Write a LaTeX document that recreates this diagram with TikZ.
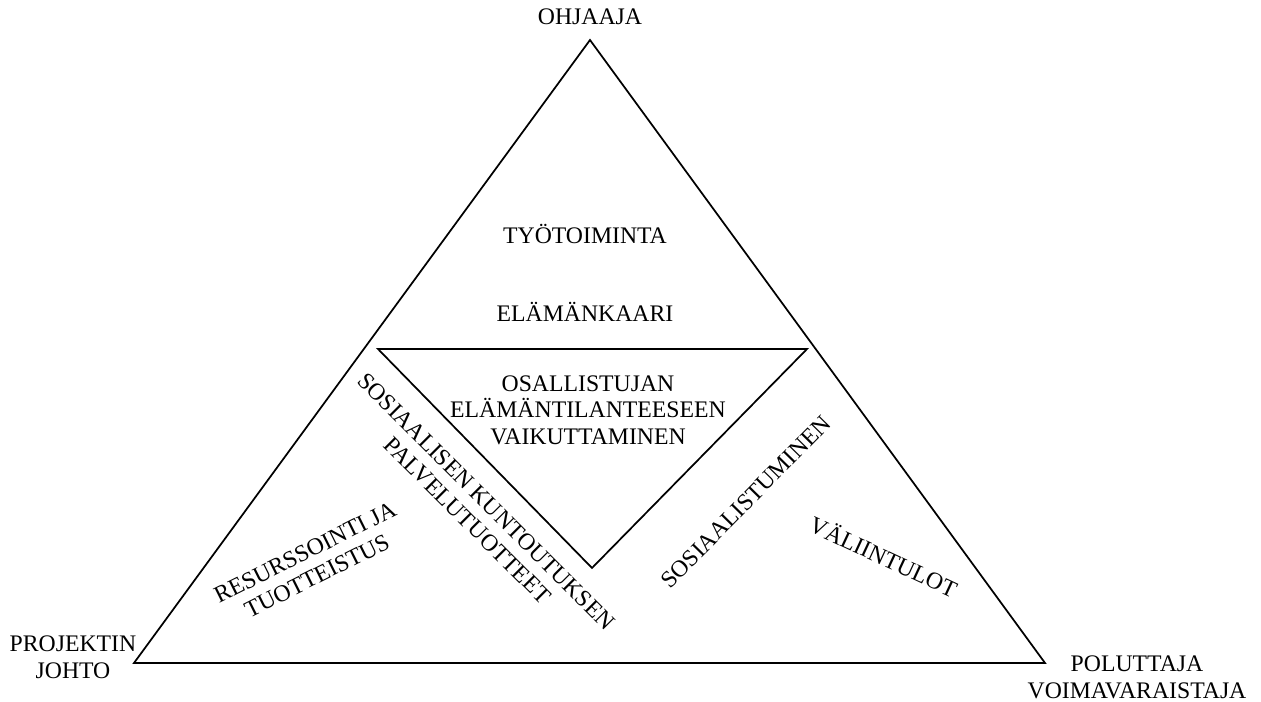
\documentclass[tikz,border=0pt]{standalone}
\usepackage{fontspec}
\setmainfont{Liberation Serif}
\begin{document}
\begin{tikzpicture}[x=0.75pt,y=-0.75pt,
  lbl/.style={inner sep=0pt,align=center,font=\fontsize{17.8}{20}\selectfont},
  edge/.style={line width=1.3pt,line join=miter}]
\useasboundingbox (0,0) rectangle (1261,702);
% outer triangle
\coordinate (A) at (590,40);
\coordinate (B) at (134,663);
\coordinate (C) at (1045,663);
\draw[edge] (A) -- (B) -- (C) -- cycle;
% inner triangle
\coordinate (P) at (378,349);
\coordinate (Q) at (807,349);
\coordinate (R) at (592,568);
\draw[edge] (P) -- (Q) -- (R) -- cycle;
% labels
\node[lbl] (ohj) at (590,17) {OHJAAJA};
\node[lbl] (tyo) at (585,234) {TYÖTOIMINTA};
\node[lbl] (ela) at (585,312) {ELÄMÄNKAARI};
\node[lbl] (osa) at (588,410) {OSALLISTUJAN\\ELÄMÄNTILANTEESEEN\\VAIKUTTAMINEN};
\node[lbl] (pro) at (73,657) {PROJEKTIN\\JOHTO};
\node[lbl] (pol) at (1137,677) {POLUTTAJA\\VOIMAVARAISTAJA};
\node[lbl,rotate=26.5] (res) at (311,564) {RESURSSOINTI JA\\TUOTTEISTUS};
\node[lbl,rotate=-45] (sos) at (477,511) {SOSIAALISEN KUNTOUTUKSEN\\PALVELUTUOTTEET};
\node[lbl,rotate=45.5] (sst) at (746,502) {SOSIAALISTUMINEN};
\node[lbl,rotate=-25] (val) at (884,556) {VÄLIINTULOT};
\end{tikzpicture}
\end{document}
